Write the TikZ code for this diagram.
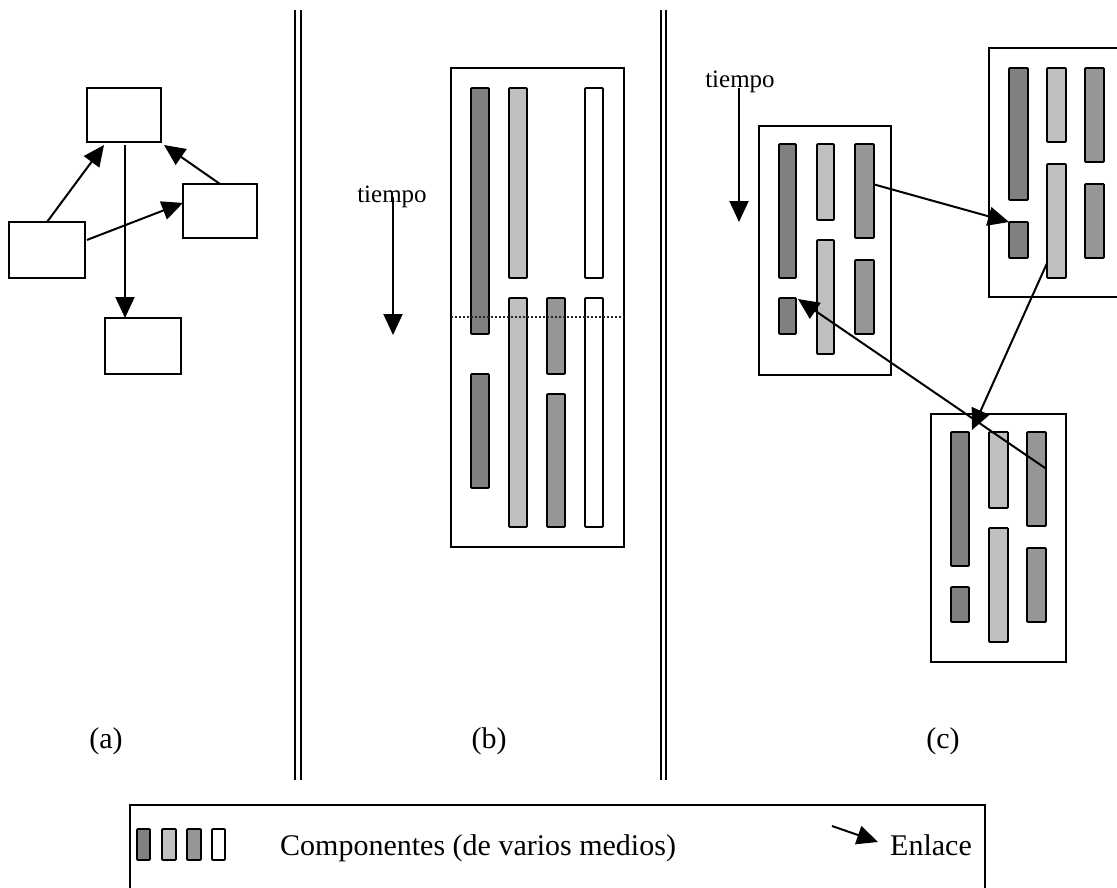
\documentclass[tikz,border=0pt]{standalone}
\usepackage{fontspec}
\setmainfont{Liberation Serif}
\usetikzlibrary{arrows.meta,calc}
\definecolor{dkg}{gray}{0.5}
\definecolor{ltg}{gray}{0.75}
\definecolor{mdg}{gray}{0.59}
\newcommand\rbox[6]{\node[#2, minimum width={#5pt-#3pt}, minimum height={#6pt-#4pt}] (#1) at ({(#3+#5)/2},{(#4+#6)/2}) {};}
\begin{document}
\begin{tikzpicture}[x=1pt,y=-1pt,
  box/.style={draw, line width=1.8pt, fill=white, inner sep=0pt, outer sep=0pt},
  bar/.style={draw, line width=1.8pt, rounded corners=1pt, inner sep=0pt, outer sep=0pt},
  cdark/.style={bar, fill=dkg},
  clight/.style={bar, fill=ltg},
  cmid/.style={bar, fill=mdg},
  cwhite/.style={bar, fill=white},
  arr/.style={line width=2pt, -{Triangle[length=21pt,width=19pt]}},
  sep/.style={line width=2.6pt},
  dotline/.style={line width=2pt, black!85, dash pattern=on 2.4pt off 1.6pt},
  lbl/.style={font=\fontsize{30}{36}\selectfont, inner sep=0pt},
  tlbl/.style={font=\fontsize{25}{30}\selectfont, inner sep=0pt}
]
\useasboundingbox (0,0) rectangle (1117,888);
\clip (0,0) rectangle (1117,888);

% separators
\draw[sep] (295,10) -- (295,780);
\draw[sep] (301,10) -- (301,780);
\draw[sep] (661,10) -- (661,780);
\draw[sep] (666,10) -- (666,780);

% ---------- panel (a)
\rbox{T}{box}{87}{88}{161}{142}
\rbox{R}{box}{183}{184}{257}{238}
\rbox{L}{box}{9}{222}{85}{278}
\rbox{B}{box}{105}{318}{181}{374}
\draw[arr] (L.north) -- ($(T.south west)!0.23!(T.south east)+(0,3)$);
\draw[arr] (R.north) -- ($(T.south east)+(3,3)$);
\draw[arr] ($(L.north east)!0.32!(L.south east)+(2,0)$) -- ($(R.north west)!0.35!(R.south west)$);
\draw[arr] ($(T.south)+(1,3)$) -- ($(T.south |- B.north)+(1,0)$);

% ---------- panel (b)
\rbox{bbox}{box}{451}{68}{624}{547}
\rbox{b11}{cdark}{471}{88}{489}{334}
\rbox{b12}{cdark}{471}{374}{489}{488}
\rbox{b21}{clight}{509}{88}{527}{278}
\rbox{b22}{clight}{509}{298}{527}{527}
\rbox{b31}{cmid}{547}{298}{565}{374}
\rbox{b32}{cmid}{547}{394}{565}{527}
\rbox{b41}{cwhite}{585}{88}{603}{278}
\rbox{b42}{cwhite}{585}{298}{603}{527}
\draw[dotline] (bbox.west |- 0,317) -- (bbox.east |- 0,317);
\node[tlbl, anchor=base] (tb) at (392,203) {tiempo};
\coordinate (tb0) at (393,197);
\coordinate (tb1) at (393,335);
\draw[arr] (tb0) -- (tb1);

% ---------- panel (c)
\node[tlbl, anchor=base] (tc) at (740,88) {tiempo};
\coordinate (tc0) at (739,88);
\coordinate (tc1) at (739,222);
\draw[arr] (tc0) -- (tc1);

\rbox{C1}{box}{759}{126}{891}{375}
\rbox{c1d1}{cdark}{779}{144}{796}{278}
\rbox{c1d2}{cdark}{779}{298}{796}{334}
\rbox{c1l1}{clight}{817}{144}{834}{220}
\rbox{c1l2}{clight}{817}{240}{834}{354}
\rbox{c1m1}{cmid}{855}{144}{874}{238}
\rbox{c1m2}{cmid}{855}{260}{874}{334}

\rbox{C2}{box}{989}{48}{1135}{297}
\rbox{c2d1}{cdark}{1009}{68}{1028}{200}
\rbox{c2d2}{cdark}{1009}{222}{1028}{258}
\rbox{c2l1}{clight}{1047}{68}{1066}{142}
\rbox{c2l2}{clight}{1047}{164}{1066}{278}
\rbox{c2m1}{cmid}{1085}{68}{1104}{162}
\rbox{c2m2}{cmid}{1085}{184}{1104}{258}

\rbox{C3}{box}{931}{414}{1066}{662}
\rbox{c3d1}{cdark}{951}{432}{969}{566}
\rbox{c3d2}{cdark}{951}{587}{969}{622}
\rbox{c3l1}{clight}{989}{432}{1008}{508}
\rbox{c3l2}{clight}{989}{528}{1008}{642}
\rbox{c3m1}{cmid}{1027}{432}{1046}{526}
\rbox{c3m2}{cmid}{1027}{548}{1046}{622}

\draw[arr] ($(c1m1.north east)!0.43!(c1m1.south east)$) -- (c2d2.north west);
\draw[arr] ($(c2l2.north west)!0.87!(c2l2.south west)$) -- ($(c3d1.north east)+(3,-2)$);
\draw[arr] ($(c3m1.north east)!0.39!(c3m1.south east)$) -- ($(c1d2.north east)+(2,1)$);

% labels
\node[lbl, anchor=base] (la) at (106,748) {(a)};
\node[lbl, anchor=base] (lb) at (489,748) {(b)};
\node[lbl, anchor=base] (lc) at (943,748) {(c)};

% ---------- legend
\rbox{leg}{box}{130}{805}{985}{905}
\rbox{s1}{cdark}{137}{829}{150}{860}
\rbox{s2}{clight}{162}{829}{176}{860}
\rbox{s3}{cmid}{187}{829}{201}{860}
\rbox{s4}{cwhite}{212}{829}{225}{860}
\node[lbl, anchor=base west] (comp) at (280,855) {Componentes (de varios medios)};
\coordinate (e0) at (832,826);
\coordinate (e1) at (878,842);
\draw[arr] (e0) -- (e1);
\node[lbl, anchor=base west] (enl) at (890,855) {Enlace};
\end{tikzpicture}
\end{document}
